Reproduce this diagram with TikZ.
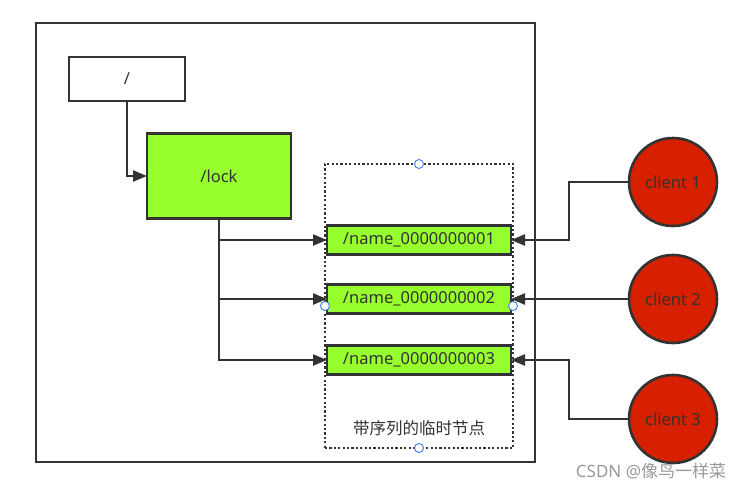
\documentclass[tikz,border=0pt]{standalone}
\usepackage{fontspec}
\setmainfont{Noto Sans}
\newfontfamily\cjk{Noto Sans CJK SC}
\usepackage{xcolor}
\usepackage{tikz}
\usetikzlibrary{arrows.meta,positioning,calc}

\definecolor{ink}{RGB}{51,51,51}
\definecolor{leaf}{RGB}{150,255,45}
\definecolor{clred}{RGB}{214,32,0}
\definecolor{handleblue}{RGB}{74,134,232}

\begin{document}
\begin{tikzpicture}[x=1pt, y=-1pt, every node/.style={font=\fontsize{16.5}{19}\selectfont, text=ink, inner sep=0pt, outer sep=0pt}, box/.style={draw=ink, line width=2.6pt, fill=white, align=center}, znode/.style={box, fill=leaf}, seqnode/.style={znode, minimum width=184pt, minimum height=29pt}, client/.style={circle, draw=ink, line width=2.6pt, fill=clred, minimum size=88pt}, arr/.style={-{Triangle[length=14pt,width=11pt]}, draw=ink, line width=2.4pt}, handle/.style={draw=handleblue, fill=white, line width=1pt}]
\useasboundingbox (0,0) rectangle (752,491);
\draw[ink, line width=2.6pt] (36,23) rectangle (535,462);
\node[box, minimum width=116pt, minimum height=44pt] (root) at (127,79) {/};
\node[znode, minimum width=144pt, minimum height=85pt] (lock) at (219,176) {/lock};
\node[draw=ink, line width=2.6pt, dash pattern=on 2.2pt off 2.2pt, minimum width=188pt, minimum height=284pt] (grp) at (419,306) {};
\node[seqnode] (n1) at (419,240) {/name\_0000000001};
\node[seqnode] (n2) at (419,299) {/name\_0000000002};
\node[seqnode] (n3) at (419,360) {/name\_0000000003};
\node (grplabel) at (419,428) {\cjk 带序列的临时节点};
\node[client] (c1) at (673,182) {client 1};
\node[client] (c2) at (673,299) {client 2};
\node[client] (c3) at (673,419) {client 3};
\draw[arr] (root.south) |- (lock.west);
\draw[arr] (lock.south) |- (n1.west);
\draw[arr] (lock.south) |- (n2.west);
\draw[arr] (lock.south) |- (n3.west);
\draw[arr] (c1.west) -- ++(-60,0) |- (n1.east);
\draw[arr] (c2.west) -- (n2.east);
\draw[arr] (c3.west) -- ++(-60,0) |- (n3.east);
% selection handles of the group
\foreach \p in {north,south,west,east}
  \draw[handle] (grp.\p) circle (4.5pt);
\node[text=black!40, font=\fontsize{17}{20}\selectfont] (wm) at (651,471) {CSDN @\cjk 像鸟一样菜};
\end{tikzpicture}
\end{document}
